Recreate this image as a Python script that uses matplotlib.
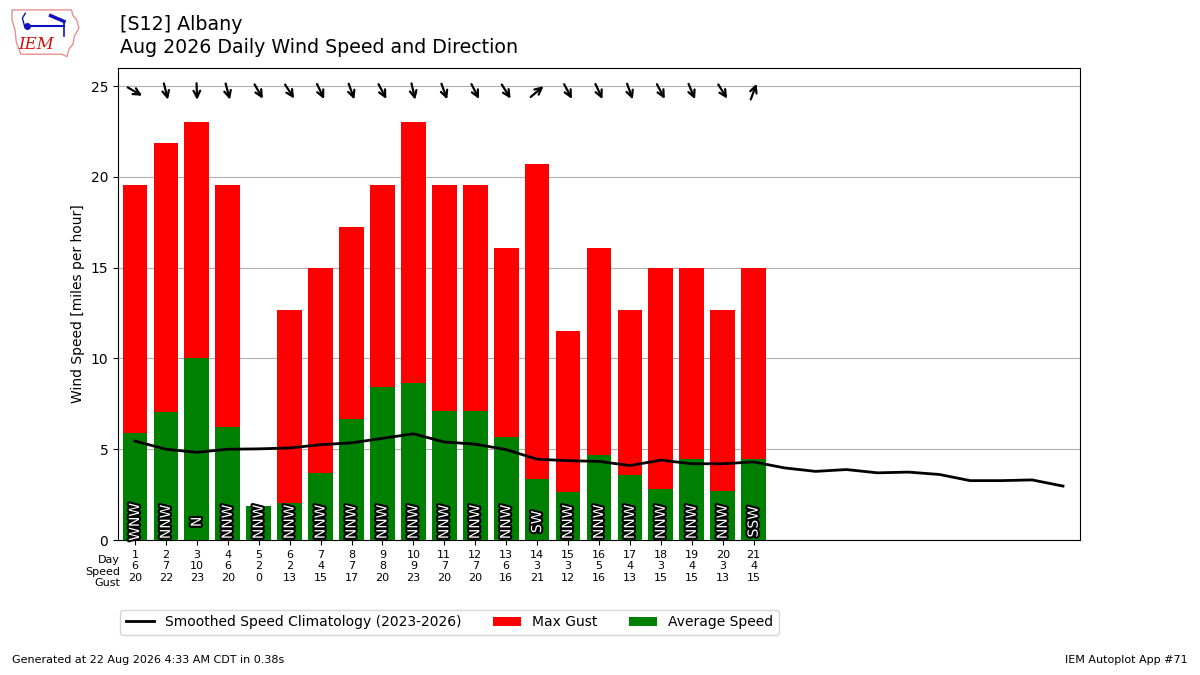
import numpy as np
import matplotlib
matplotlib.use("Agg")
import matplotlib.pyplot as plt
import matplotlib.patheffects as pe
from matplotlib.patches import Polygon
from matplotlib.transforms import offset_copy

days = list(range(1, 22))
avg_speed = [5.88, 7.03, 10.0, 6.2, 1.87, 2.03, 3.68, 6.65, 8.4, 8.63, 7.09,
             7.09, 5.66, 3.35, 2.64, 4.67, 3.57, 2.8, 4.45, 2.69, 4.45]
max_gust = [19.56, 21.86, 23.02, 19.56, 0.0, 12.66, 14.96, 17.26, 19.56, 23.02,
            19.56, 19.56, 16.11, 20.71, 11.51, 16.11, 12.66, 14.96, 14.96, 12.66, 14.96]
speed_labels = ["6", "7", "10", "6", "2", "2", "4", "7", "8", "9", "7",
                "7", "6", "3", "3", "5", "4", "3", "4", "3", "4"]
gust_labels = ["20", "22", "23", "20", "0", "13", "15", "17", "20", "23", "20",
               "20", "16", "21", "12", "16", "13", "15", "15", "13", "15"]
wind_dir = [300, 346, 358, 345, 330, 327, 335, 340, 332, 347, 340,
            333, 328, 230, 332, 335, 340, 332, 337, 328, 200]
dir_labels = ["WNW", "NNW", "N", "NNW", "NNW", "NNW", "NNW", "NNW", "NNW", "NNW", "NNW",
              "NNW", "NNW", "SW", "NNW", "NNW", "NNW", "NNW", "NNW", "NNW", "SSW"]
clim_days = list(range(1, 32))
clim_speed = [5.45, 5.0, 4.83, 5.0, 5.02, 5.07, 5.25, 5.35, 5.6, 5.85, 5.4,
              5.28, 4.98, 4.45, 4.37, 4.33, 4.1, 4.4, 4.2, 4.2, 4.3,
              3.97, 3.78, 3.88, 3.7, 3.74, 3.61, 3.27, 3.27, 3.31, 2.97]

fig = plt.figure(figsize=(12, 6.75), dpi=100)
ax = fig.add_axes([0.0983, 0.2, 0.8017, 0.6993])

ax.bar(days, max_gust, width=0.8, color="#ff0000", label="Max Gust", zorder=2)
ax.bar(days, avg_speed, width=0.8, color="#008000", label="Average Speed", zorder=3)
ax.plot(clim_days, clim_speed, color="black", lw=2,
        label="Smoothed Speed Climatology (2023-2026)", zorder=4)

for d, lab in zip(days, dir_labels):
    ax.text(d, 1.0, lab, rotation=90, ha="center", va="center", color="white",
            fontsize=10, zorder=5,
            path_effects=[pe.withStroke(linewidth=3, foreground="black")])

L = 6.0
for d, wd in zip(days, wind_dir):
    ang = np.radians(270 - wd)
    tr_head = offset_copy(ax.transData, fig=fig, x=L * np.cos(ang), y=L * np.sin(ang), units="points")
    tr_tail = offset_copy(ax.transData, fig=fig, x=-L * np.cos(ang), y=-L * np.sin(ang), units="points")
    ax.annotate("", xy=(d, 24.7), xycoords=tr_head, xytext=(d, 24.7), textcoords=tr_tail,
                arrowprops=dict(arrowstyle="->", lw=1.6, color="black",
                                mutation_scale=12, shrinkA=0, shrinkB=0), zorder=6)

ax.set_xlim(0.45, 31.55)
ax.set_ylim(0, 26)
ax.set_yticks([0, 5, 10, 15, 20, 25])
ax.yaxis.grid(True, color="#b0b0b0", lw=0.8, zorder=0)
ax.set_axisbelow(True)
ax.tick_params(axis="y", labelsize=10)
ax.set_ylabel("Wind Speed [miles per hour]", fontsize=10)
ax.set_xticks(days)
ax.set_xticklabels([f"{d}\n{s}\n{g}" for d, s, g in zip(days, speed_labels, gust_labels)],
                   fontsize=8)
fig.text(0.1, 0.1778, "Day\nSpeed\nGust", ha="right", va="top", fontsize=8)

handles, labels = ax.get_legend_handles_labels()
order = [labels.index("Smoothed Speed Climatology (2023-2026)"),
         labels.index("Max Gust"), labels.index("Average Speed")]
fig.legend([handles[i] for i in order], [labels[i] for i in order], ncol=3,
           loc="center left", bbox_to_anchor=(0.0945, 0.078), fontsize=10,
           columnspacing=2.3, frameon=True)

fig.text(0.1, 0.963, "[S12] Albany", fontsize=13.7, ha="left", va="center")
fig.text(0.1, 0.929, "Aug 2026 Daily Wind Speed and Direction", fontsize=13.7,
         ha="left", va="center")
fig.text(0.01, 0.015, "Generated at 22 Aug 2026 4:33 AM CDT in 0.38s", fontsize=8,
         ha="left", va="bottom")
fig.text(0.99, 0.015, "IEM Autoplot App #71", fontsize=8, ha="right", va="bottom")

# logo
lax = fig.add_axes([0.005, 0.91, 0.062, 0.085])
lax.set_xlim(0, 100)
lax.set_ylim(0, 70)
lax.axis("off")
iowa = [(8, 62), (88, 62), (90, 55), (95, 50), (98, 40), (92, 30), (90, 20),
        (85, 15), (82, 5), (75, 8), (20, 8), (14, 22), (12, 38), (8, 50)]
lax.add_patch(Polygon(iowa, closed=True, fill=False, ec="#e89090", lw=1))
lax.text(40, 20, "IEM", color="#d01010", fontsize=12, style="italic",
         family="DejaVu Serif", ha="center", va="center")
lax.plot([28, 78], [42, 42], color="#1010c0", lw=1.5)
lax.plot([28], [42], "o", color="#1010c0", ms=4)
lax.plot([60, 78], [55, 48], color="#1010c0", lw=2.5)
lax.plot([25, 22, 26], [42, 52, 58], color="#1010c0", lw=1)
lax.plot([78, 78], [48, 30], color="#1010c0", lw=1.2)

fig.savefig("out.png", dpi=100)
